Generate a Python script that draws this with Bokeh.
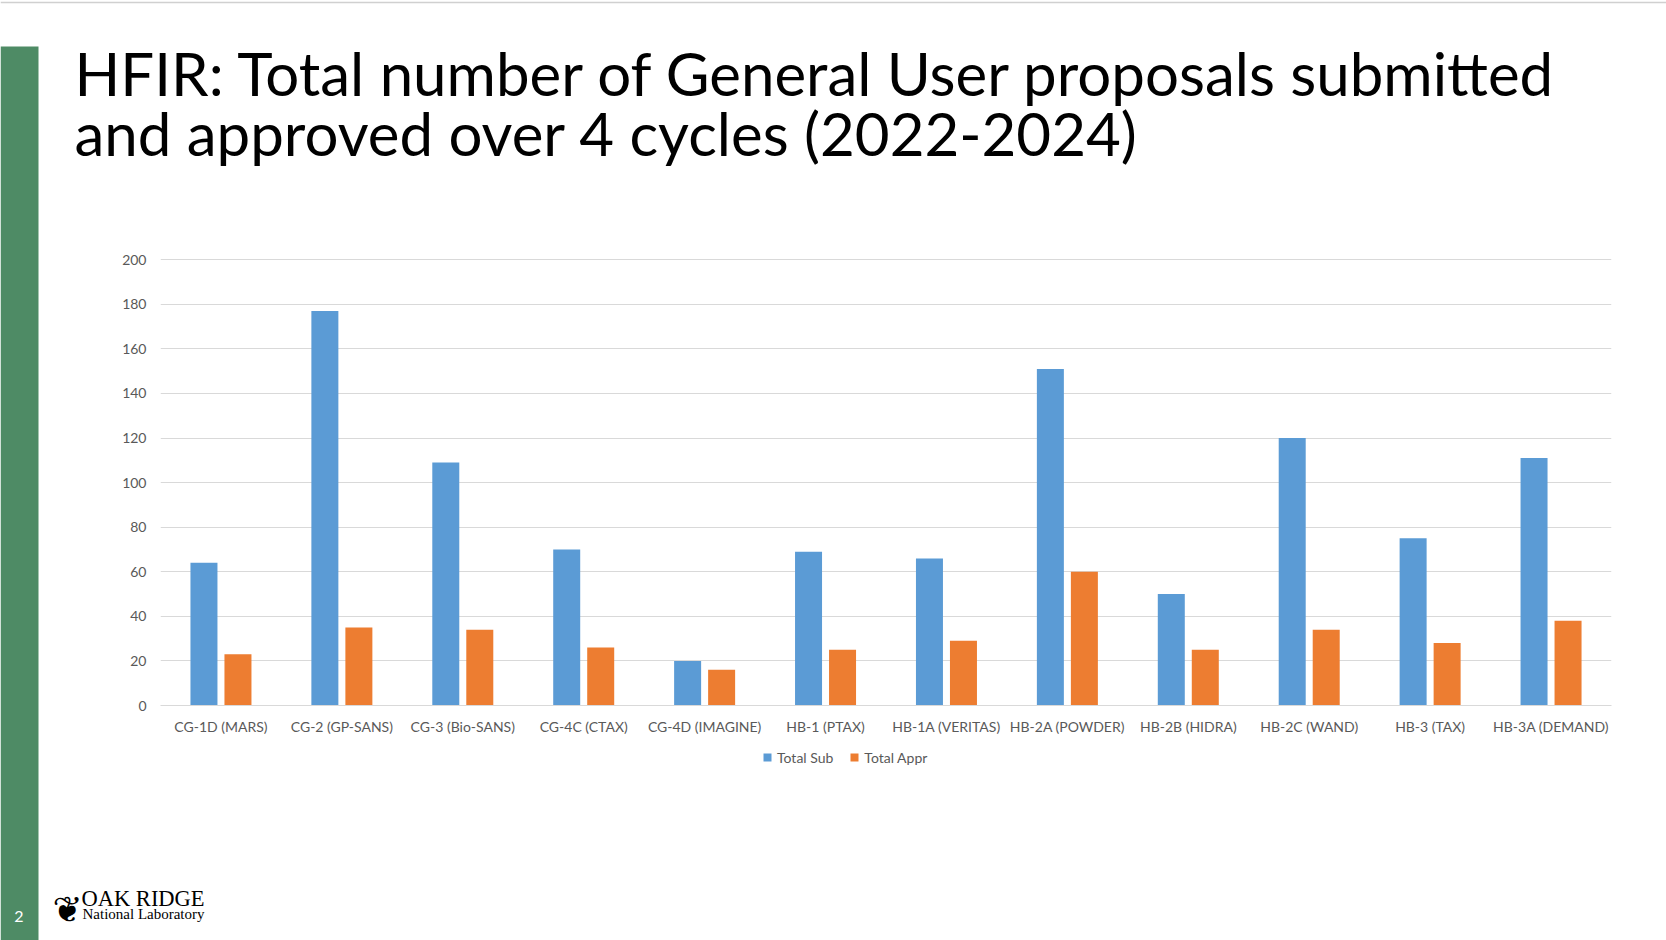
from bokeh.plotting import figure
from bokeh.models import (FactorRange, Range1d, Label, Legend, LegendItem,
                          FixedTicker, ColumnDataSource)
from bokeh.transform import dodge
from bokeh.embed import file_html
from bokeh.resources import INLINE

# ---------------- data ----------------
instruments = ["CG-1D (MARS)", "CG-2 (GP-SANS)", "CG-3 (Bio-SANS)", "CG-4C (CTAX)",
               "CG-4D (IMAGINE)", "HB-1 (PTAX)", "HB-1A (VERITAS)", "HB-2A (POWDER)",
               "HB-2B (HIDRA)", "HB-2C (WAND)", "HB-3 (TAX)", "HB-3A (DEMAND)"]
total_sub = [64, 177, 109, 70, 20, 69, 66, 151, 50, 120, 75, 111]
total_appr = [23, 35, 34, 26, 16, 25, 29, 60, 25, 34, 28, 38]
series_names = ["Total Sub", "Total Appr"]
y_ticks = [0, 20, 40, 60, 80, 100, 120, 140, 160, 180, 200]
title_lines = ["HFIR: Total number of General User proposals submitted",
               "and approved over 4 cycles (2022-2024)"]
slide_number = "2"
logo_lines = ["OAK RIDGE", "National Laboratory"]

# ---------------- styles ----------------
BLUE = "#5B9BD5"
ORANGE = "#ED7D31"
GREEN = "#4E8B65"
GRID = "#D9D9D9"
LABEL = "#595959"
TICK_FONT = "Lato"
TICK_SIZE = "14px"
W, H = 1666, 940
OVERLAY = {"position": "absolute", "left": "0px", "top": "0px"}

# ---------------- chart ----------------
p = figure(x_range=FactorRange(factors=instruments), y_range=Range1d(0, 201),
           width=W, height=H, output_backend="svg", toolbar_location=None,
           min_border_left=160, min_border_right=55, min_border_top=257,
           min_border_bottom=235, styles=OVERLAY)

src = ColumnDataSource(dict(cat=instruments, sub=total_sub, appr=total_appr))
r1 = p.vbar(x=dodge("cat", -0.1406, range=p.x_range), top="sub", width=0.2233,
            source=src, fill_color=BLUE, line_color=None)
r2 = p.vbar(x=dodge("cat", 0.1406, range=p.x_range), top="appr", width=0.2233,
            source=src, fill_color=ORANGE, line_color=None)

p.outline_line_color = None
p.xgrid.grid_line_color = None
p.ygrid.grid_line_color = GRID
p.ygrid.grid_line_width = 1

xa = p.xaxis[0]
xa.axis_line_color = GRID
xa.major_tick_line_color = None
xa.minor_tick_line_color = None
xa.major_tick_out = 0
xa.major_tick_in = 0
xa.major_label_standoff = 12
xa.major_label_text_font = TICK_FONT
xa.major_label_text_font_size = TICK_SIZE
xa.major_label_text_color = LABEL

ya = p.yaxis[0]
ya.ticker = FixedTicker(ticks=y_ticks)
ya.axis_line_color = None
ya.major_tick_line_color = None
ya.minor_tick_line_color = None
ya.major_tick_out = 0
ya.major_tick_in = 0
ya.major_label_standoff = 14
ya.major_label_text_font = TICK_FONT
ya.major_label_text_font_size = TICK_SIZE
ya.major_label_text_color = LABEL

# ---------------- slide layer (page pixel coordinates) ----------------
d = figure(x_range=Range1d(0, W), y_range=Range1d(H, 0), width=W, height=H,
           output_backend="svg", toolbar_location=None,
           x_axis_type=None, y_axis_type=None, min_border=0, styles=OVERLAY)
d.outline_line_color = None
d.background_fill_color = None
d.border_fill_color = None

d.quad(left=[0], right=[38], top=[46], bottom=[H], fill_color=GREEN, line_color=None)
d.segment(x0=[0], x1=[W], y0=[2], y1=[2], line_color="#D0D0D0", line_width=1.5)

def label(px, py, text, **kw):
    d.add_layout(Label(x=px, y=py, text=text, text_baseline="alphabetic", **kw))

label(74, 72.5, title_lines[0], text_font="Lato", text_font_size="60px", text_color="black")
label(74, 132.5, title_lines[1], text_font="Lato", text_font_size="60px", text_color="black")
label(18.5, 916, slide_number, text_align="center", text_font="Lato",
      text_font_size="16px", text_color="white")
label(52, 909, "\u2766", text_font="DejaVu Sans", text_font_size="36px", text_color="black")
label(81, 897.5, logo_lines[0], text_font="Liberation Serif", text_font_size="22.5px",
      text_color="black")
label(82, 913.5, logo_lines[1], text_font="Liberation Serif", text_font_size="15px",
      text_color="black")

# legend keys: renderers with a single undrawable (NaN) point, used only for styling
nan = float("nan")
k1 = d.scatter(x=[nan], y=[nan], marker="square", size=8, fill_color=BLUE, line_color=None)
k2 = d.scatter(x=[nan], y=[nan], marker="square", size=8, fill_color=ORANGE, line_color=None)
legend = Legend(items=[LegendItem(label=series_names[0], renderers=[k1]),
                       LegendItem(label=series_names[1], renderers=[k2])],
                location=(757, H - 767), orientation="horizontal",
                glyph_width=20, glyph_height=20, label_height=20, label_standoff=0,
                spacing=11, padding=0, margin=0, border_line_color=None,
                background_fill_alpha=0,
                label_text_font=TICK_FONT, label_text_font_size=TICK_SIZE,
                label_text_color=LABEL)
d.add_layout(legend)

open("out.html", "w").write(file_html([p, d], INLINE))
